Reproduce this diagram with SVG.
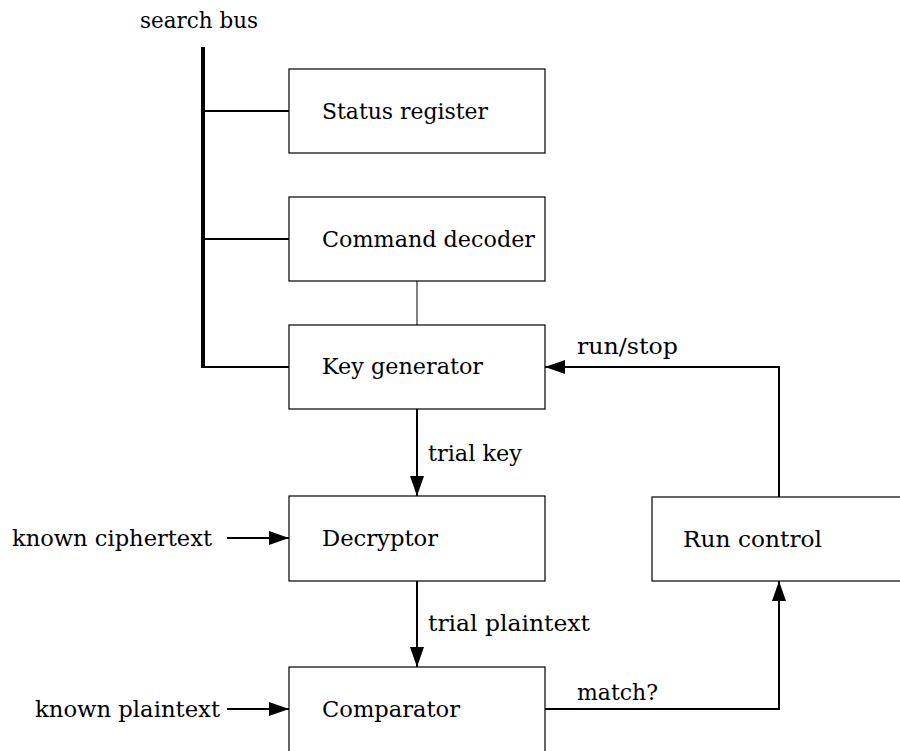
<svg xmlns="http://www.w3.org/2000/svg" width="900" height="751" viewBox="0 0 900 751">
<style>
.box{fill:#fff;stroke:#000;stroke-width:1.2}
.t{font-family:"DejaVu Serif","Liberation Serif",serif;font-size:23px;fill:#000}
.ln{stroke:#000;stroke-width:2;fill:none}
.thin{stroke:#000;stroke-width:1;fill:none}
</style>
<defs>
<marker id="ah" viewBox="0 0 20 14" refX="20" refY="7" markerWidth="20" markerHeight="14" markerUnits="userSpaceOnUse" orient="auto">
<path d="M0,0 L20,7 L0,14 Z" fill="#000"/>
</marker>
</defs>
<rect width="900" height="751" fill="#fff"/>
<g id="connectors">
<line x1="203" y1="47" x2="203" y2="368" stroke="#000" stroke-width="4"/>
<line class="ln" x1="203" y1="111" x2="289" y2="111"/>
<line class="ln" x1="203" y1="239" x2="289" y2="239"/>
<line class="ln" x1="201" y1="367" x2="289" y2="367"/>
<line class="thin" x1="417" y1="281" x2="417" y2="325"/>
<line class="ln" x1="417" y1="409" x2="417" y2="496" marker-end="url(#ah)"/>
<line class="ln" x1="417" y1="581" x2="417" y2="667" marker-end="url(#ah)"/>
<line class="ln" x1="227" y1="538" x2="289" y2="538" marker-end="url(#ah)"/>
<line class="ln" x1="227" y1="709" x2="289" y2="709" marker-end="url(#ah)"/>
<polyline class="ln" points="545,709 779,709 779,581" marker-end="url(#ah)"/>
<polyline class="ln" points="779,497 779,367 545,367" marker-end="url(#ah)"/>
<text class="t" x="140" y="28" textLength="118" lengthAdjust="spacingAndGlyphs">search bus</text>
<text class="t" x="428" y="461" textLength="94" lengthAdjust="spacingAndGlyphs">trial key</text>
<text class="t" x="428" y="631" textLength="162" lengthAdjust="spacingAndGlyphs">trial plaintext</text>
<text class="t" x="12" y="546" textLength="200" lengthAdjust="spacingAndGlyphs">known ciphertext</text>
<text class="t" x="35" y="717" textLength="185" lengthAdjust="spacingAndGlyphs">known plaintext</text>
<text class="t" x="577" y="700" textLength="81" lengthAdjust="spacingAndGlyphs">match?</text>
<text class="t" x="577" y="354" textLength="101" lengthAdjust="spacingAndGlyphs">run/stop</text>
</g>
<g id="status"><rect class="box" x="289" y="69" width="256" height="84"/><text class="t" x="322" y="119" textLength="166" lengthAdjust="spacingAndGlyphs">Status register</text></g>
<g id="cmd"><rect class="box" x="289" y="197" width="256" height="84"/><text class="t" x="322" y="247" textLength="213" lengthAdjust="spacingAndGlyphs">Command decoder</text></g>
<g id="keygen"><rect class="box" x="289" y="325" width="256" height="84"/><text class="t" x="322" y="374" textLength="161" lengthAdjust="spacingAndGlyphs">Key generator</text></g>
<g id="decryptor"><rect class="box" x="289" y="496" width="256" height="85"/><text class="t" x="322" y="546" textLength="116" lengthAdjust="spacingAndGlyphs">Decryptor</text></g>
<g id="comparator"><rect class="box" x="289" y="667" width="256" height="100"/><text class="t" x="322" y="717" textLength="138" lengthAdjust="spacingAndGlyphs">Comparator</text></g>
<g id="runctl"><rect class="box" x="652" y="497" width="260" height="84"/><text class="t" x="683" y="547" textLength="139" lengthAdjust="spacingAndGlyphs">Run control</text></g>
</svg>
